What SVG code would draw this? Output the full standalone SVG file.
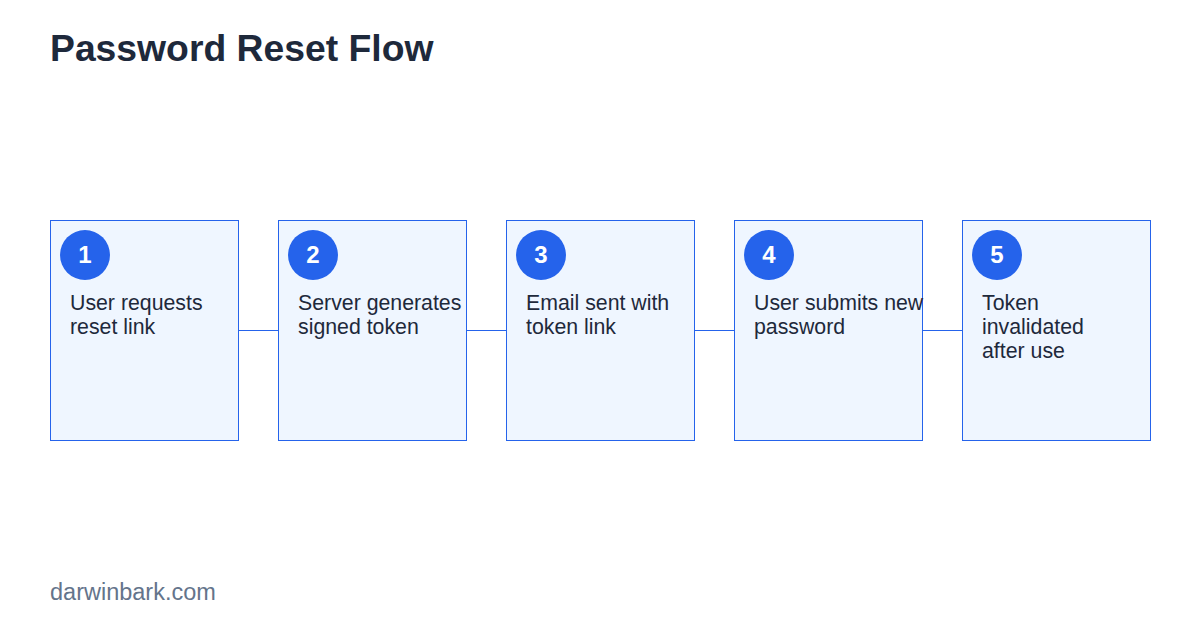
<svg xmlns="http://www.w3.org/2000/svg" width="1200" height="630" viewBox="0 0 1200 630">
<style>
.bg{fill:#ffffff}
.box{fill:#eff6ff;stroke:#2563eb;stroke-width:1}
.badge{fill:#2563eb}
.num{font-family:"Liberation Sans",Arial,sans-serif;font-size:24px;font-weight:bold;fill:#ffffff;text-anchor:middle}
.lbl{font-family:"Liberation Sans",Arial,sans-serif;font-size:21.3px;fill:#1e293b}
.title{font-family:"Liberation Sans",Arial,sans-serif;font-size:37.3px;font-weight:bold;fill:#1e293b}
.foot{font-family:"Liberation Sans",Arial,sans-serif;font-size:23.5px;fill:#64748b}
.conn{stroke:#2563eb;stroke-width:1;fill:none}
</style>
<rect class="bg" x="0" y="0" width="1200" height="630"/>
<text class="title" x="50" y="61">Password Reset Flow</text>
<g id="connectors">
<line class="conn" x1="238.5" y1="330.5" x2="278.5" y2="330.5"/>
<line class="conn" x1="466.5" y1="330.5" x2="506.5" y2="330.5"/>
<line class="conn" x1="694.5" y1="330.5" x2="734.5" y2="330.5"/>
<line class="conn" x1="922.5" y1="330.5" x2="962.5" y2="330.5"/>
</g>
<g id="step1">
<rect class="box" x="50.5" y="220.5" width="188" height="220"/>
<circle class="badge" cx="85" cy="255" r="25"/>
<text class="num" x="85" y="263">1</text>
<text class="lbl" x="70" y="310">User requests</text>
<text class="lbl" x="70" y="334">reset link</text>
</g>
<g id="step2">
<rect class="box" x="278.5" y="220.5" width="188" height="220"/>
<circle class="badge" cx="313" cy="255" r="25"/>
<text class="num" x="313" y="263">2</text>
<text class="lbl" x="298" y="310">Server generates</text>
<text class="lbl" x="298" y="334">signed token</text>
</g>
<g id="step3">
<rect class="box" x="506.5" y="220.5" width="188" height="220"/>
<circle class="badge" cx="541" cy="255" r="25"/>
<text class="num" x="541" y="263">3</text>
<text class="lbl" x="526" y="310">Email sent with</text>
<text class="lbl" x="526" y="334">token link</text>
</g>
<g id="step4">
<rect class="box" x="734.5" y="220.5" width="188" height="220"/>
<circle class="badge" cx="769" cy="255" r="25"/>
<text class="num" x="769" y="263">4</text>
<text class="lbl" x="754" y="310">User submits new</text>
<text class="lbl" x="754" y="334">password</text>
</g>
<g id="step5">
<rect class="box" x="962.5" y="220.5" width="188" height="220"/>
<circle class="badge" cx="997" cy="255" r="25"/>
<text class="num" x="997" y="263">5</text>
<text class="lbl" x="982" y="310">Token</text>
<text class="lbl" x="982" y="334">invalidated</text>
<text class="lbl" x="982" y="358">after use</text>
</g>
<text class="foot" x="50" y="600">darwinbark.com</text>
</svg>
